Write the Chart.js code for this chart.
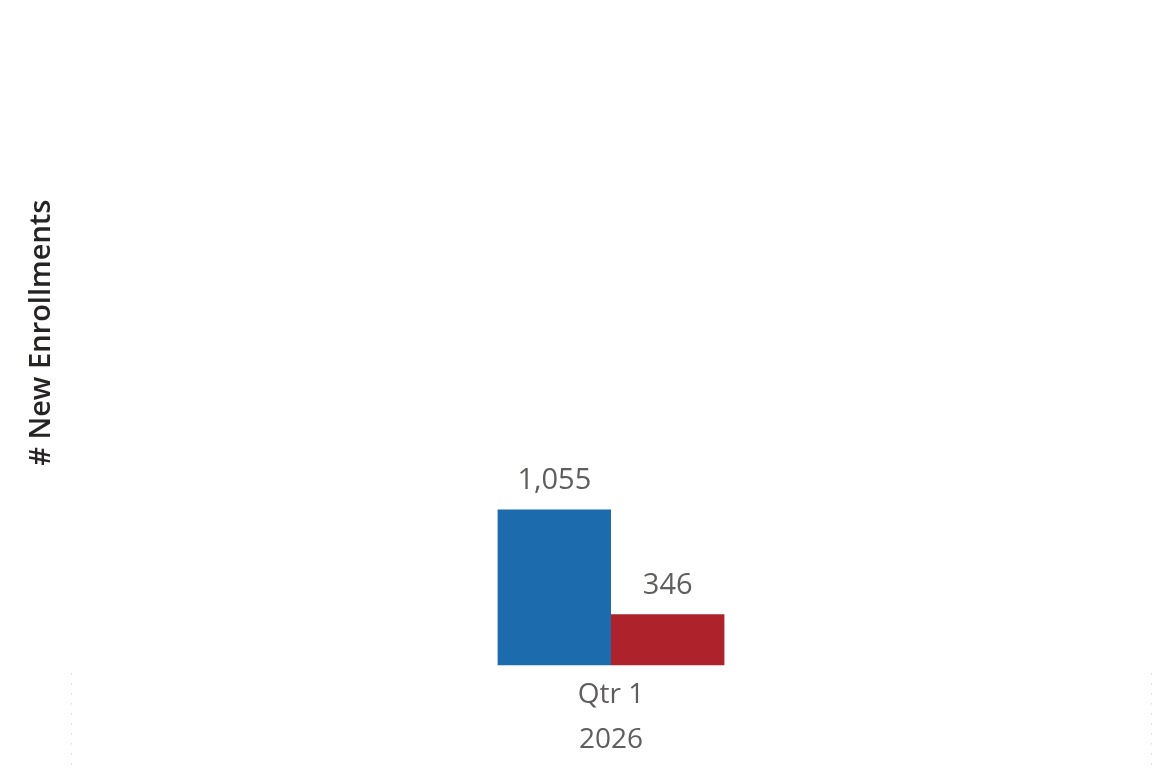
<!DOCTYPE html>
<html>
<head>
<meta charset="utf-8">
<script src="https://cdn.jsdelivr.net/npm/chart.js@4"></script>
<style>
  html, body { margin: 0; padding: 0; background: #fff; }
  #wrap { width: 1157px; height: 769px; }
</style>
</head>
<body>
<div id="wrap"><canvas id="enrollChart"></canvas></div>
<script>
// chart data
const categories = [["Qtr 1", "2026"]];
const seriesNames = ["Series A", "Series B"];
const seriesA = [1055];
const seriesB = [346];
const yMax = 4500;

// value labels above bars
const valueLabels = {
  id: "valueLabels",
  afterDatasetsDraw(chart) {
    const ctx = chart.ctx;
    ctx.save();
    ctx.font = "29px 'Open Sans'";
    ctx.fillStyle = "#605E5C";
    ctx.textAlign = "center";
    ctx.textBaseline = "alphabetic";
    chart.data.datasets.forEach((ds, i) => {
      chart.getDatasetMeta(i).data.forEach((bar, j) => {
        ctx.fillText(ds.data[j].toLocaleString("en-US"), bar.x, bar.y - 20);
      });
    });
    ctx.restore();
  },
};

// dotted category boundaries under the axis
const boundaryLines = {
  id: "boundaryLines",
  afterDraw(chart) {
    const ctx = chart.ctx;
    const area = chart.chartArea;
    ctx.save();
    ctx.strokeStyle = "#C8C8C8";
    ctx.lineWidth = 1;
    ctx.setLineDash([1, 9]);
    [area.left, area.right].forEach((x) => {
      ctx.beginPath();
      ctx.moveTo(Math.round(x) + 0.5, area.bottom + 8);
      ctx.lineTo(Math.round(x) + 0.5, chart.height);
      ctx.stroke();
    });
    ctx.restore();
  },
};

new Chart(document.getElementById("enrollChart"), {
  type: "bar",
  data: {
    labels: categories,
    datasets: [
      {
        label: seriesNames[0],
        data: seriesA,
        backgroundColor: "#1C6BAD",
      },
      {
        label: seriesNames[1],
        data: seriesB,
        backgroundColor: "#AD222B",
      },
    ],
  },
  options: {
    responsive: true,
    maintainAspectRatio: false,
    animation: false,
    layout: { padding: { top: 0, right: 6, bottom: 8, left: 0 } },
    plugins: {
      legend: { display: false },
      tooltip: { enabled: false },
    },
    datasets: {
      bar: { categoryPercentage: 0.21, barPercentage: 1.0 },
    },
    scales: {
      x: {
        grid: { display: false },
        border: { display: false },
        ticks: {
          color: "#605E5C",
          font: { family: "'Open Sans'", size: 28, lineHeight: 1.6 },
          padding: -1,
          maxRotation: 0,
        },
      },
      y: {
        min: 0,
        max: yMax,
        grid: { display: false },
        border: { display: false },
        ticks: { display: false },
        title: {
          display: true,
          text: "# New Enrollments",
          color: "#252423",
          font: { family: "'Open Sans'", size: 29, weight: "600" },
          padding: { top: 24, bottom: 0 },
        },
        afterFit(scale) {
          scale.width = 71;
        },
      },
    },
  },
  plugins: [valueLabels, boundaryLines],
});
</script>
</body>
</html>
